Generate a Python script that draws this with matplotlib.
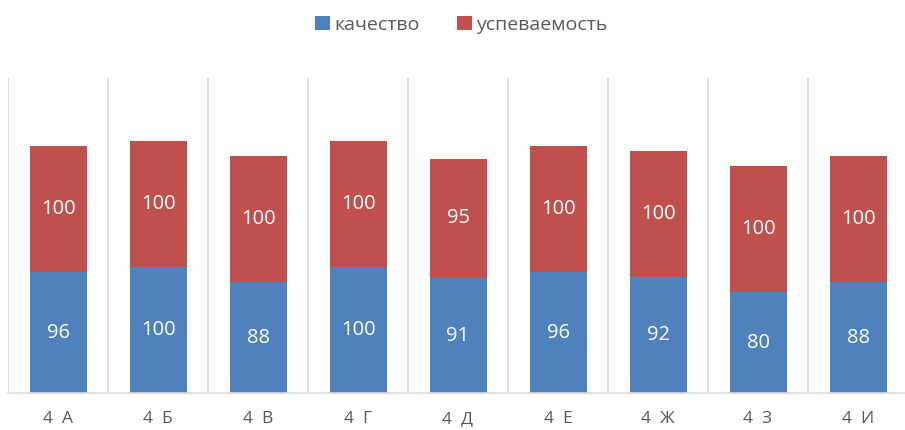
import matplotlib.pyplot as plt
import numpy as np

classes = ['4  А', '4  Б', '4  В', '4  Г', '4  Д', '4  Е', '4  Ж', '4  З', '4  И']
quality = [96, 100, 88, 100, 91, 96, 92, 80, 88]
success = [100, 100, 100, 100, 95, 100, 100, 100, 100]

plt.rcParams['font.family'] = ['Open Sans', 'DejaVu Sans']

fig = plt.figure(figsize=(9.05, 4.3), dpi=100)
ax = fig.add_axes([8 / 905, 37 / 430, 900 / 905, 315 / 430])

x = np.arange(len(classes))
b1 = ax.bar(x, quality, width=0.57, color='#4F81BD', label='качество')
b2 = ax.bar(x, success, width=0.57, bottom=quality, color='#C0504D', label='успеваемость')

for bars, vals in ((b1, quality), (b2, success)):
    for rect, v in zip(bars, vals):
        ax.text(rect.get_x() + rect.get_width() / 2, rect.get_y() + rect.get_height() / 2,
                str(v), ha='center', va='center', color='white', fontsize=14.5)

ax.set_xlim(-0.5, len(classes) - 0.5)
ax.set_ylim(0, 250)
ax.set_xticks(x)
ax.set_xticklabels(classes, fontsize=12.5, color='#595959')
ax.set_xticks(np.arange(len(classes)) - 0.5, minor=True)
ax.tick_params(axis='x', which='both', length=0, pad=13)
ax.set_yticks([])
ax.grid(True, axis='x', which='minor', color='#D9D9D9', linewidth=1.2)
ax.set_axisbelow(True)

for side in ('top', 'right', 'left'):
    ax.spines[side].set_visible(False)
ax.spines['bottom'].set_color('#D9D9D9')
ax.spines['bottom'].set_linewidth(1.2)

# Legend on top
fig.legend(loc='center', bbox_to_anchor=(0.51, 1 - 25 / 430), ncol=2, frameon=False,
           fontsize=14, handlelength=0.75, handleheight=0.75, handletextpad=0.25,
           columnspacing=1.9, labelcolor='#595959')

fig.savefig('out.png', dpi=100)
